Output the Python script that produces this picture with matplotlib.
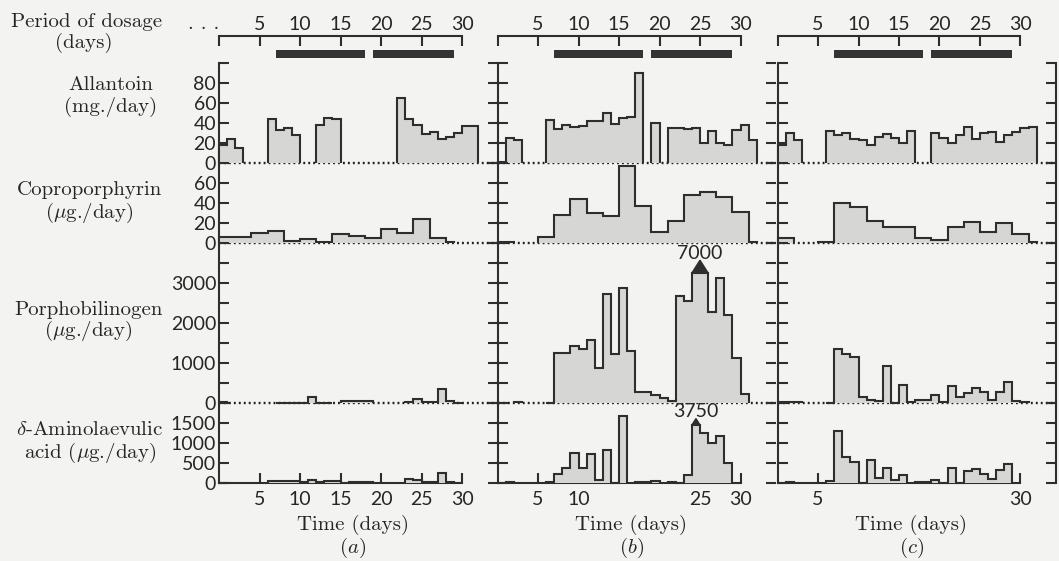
import numpy as np
import matplotlib
matplotlib.use("Agg")
import matplotlib.pyplot as plt

nan = np.nan

# collection periods (bin edges in days)
daily = np.arange(0, 33)
copro_edges_a = [0, 2, 4, 6, 8, 10, 12, 14, 16, 18, 20, 22, 24, 26, 28, 29]
copro_edges_bc = [0, 2, 5, 7, 9, 11, 13, 15, 17, 19, 21, 23, 25, 27, 29, 31, 32]
pbg_edges_b = list(range(0, 25)) + [26, 27, 28, 29, 30, 31, 32]

dosage_periods = [(7, 18), (19, 29)]

# (a)
allantoin_a = [18, 24, 15, nan, nan, nan, 44, 33, 35, 28, nan, nan, 38, 45, 44,
               nan, nan, nan, nan, nan, nan, nan, 65, 44, 38, 29, 31, 24, 26, 30, 37, 37]
copro_a = [6, 6, 10, 12, 2.5, 4, 1, 9, 7, 5, 14, 10, 24, 5, 1]
pbg_a = [20, nan, nan, nan, nan, nan, nan, 5, 5, 5, 5, 160, 8, 8, nan, 40,
         40, 40, 40, nan, nan, nan, nan, 30, 100, 15, 15, 350, 50, 10, nan, nan]
ala_a = [10, nan, nan, nan, nan, nan, 40, 50, 45, 40, 35, 75, 35, 45, 40, nan,
         20, 20, 20, nan, nan, nan, nan, 110, 75, 30, 30, 260, 35, nan, nan, nan]

# (b)
allantoin_b = [1, 25, 23, nan, nan, nan, 43, 34, 38, 36, 37, 42, 42, 50, 39, 45,
               46, 90, nan, 40, nan, 35, 35, 34, 35, 20, 32, 20, 18, 33, 38, 23]
copro_b = [1, nan, 6, 28, 44, 30, 27, 77, 37, 11, 22, 48, 51, 46, 31, 1]
pbg_b = [nan, nan, 20, nan, nan, nan, 10, 1240, 1240, 1425, 1350, 1575, 885, 2725,
         1215, 2865, 1300, 285, 285, 200, 115, 60, 2675, 2550, 7000,
         2285, 3135, 2200, 1115, 225, nan]
ala_b = [nan, 15, nan, nan, nan, nan, 20, 225, 365, 740, 385, 715, 75, 825, 0, 1675,
         nan, 15, 15, 50, nan, 15, 0, 200, 3750, 1240, 990, 1175, 510, nan, nan, nan]

# (c)
allantoin_c = [18, 30, 23, nan, nan, nan, 32, 28, 30, 24, 23, 18, 26, 29, 25, 20,
               32, nan, nan, 30, 25, 20, 28, 36, 24, 30, 31, 21, 28, 31, 35, 36]
copro_c = [4.7, nan, 1, 40, 36, 22, 16, 16, 5, 3, 16, 21, 11, 20, 9, 1]
pbg_c = [20, 20, 20, nan, nan, nan, 5, 1340, 1225, 1140, 160, 75, 40, 935, 10, 450,
         20, 70, 70, 200, 20, 435, 160, 240, 365, 265, 75, 285, 515, 55, 15, nan]
ala_c = [nan, 15, nan, nan, nan, nan, 60, 1310, 660, 535, 0, 575, 125, 385, 85, 200,
         nan, 15, 15, 75, 0, 365, 0, 290, 350, 235, 100, 325, 475, nan, nan, nan]

columns = [
    [(daily, allantoin_a), (copro_edges_a, copro_a), (daily, pbg_a), (daily, ala_a)],
    [(daily, allantoin_b), (copro_edges_bc, copro_b), (pbg_edges_b, pbg_b), (daily, ala_b)],
    [(daily, allantoin_c), (copro_edges_bc, copro_c), (daily, pbg_c), (daily, ala_c)],
]
col_names = ["($a$)", "($b$)", "($c$)"]
bottom_ticks = [[5, 10, 15, 20, 25, 30], [5, 10, 25, 30], [5, 30]]
dose_ticks = [0, 5, 10, 15, 20, 25, 30]

row_labels = [("Allantoin", "(mg./day)"),
              ("Coproporphyrin", r"($\mu$g./day)"),
              ("Porphobilinogen", r"($\mu$g./day)"),
              (r"$\delta$-Aminolaevulic", r"acid ($\mu$g./day)")]
row_top = [100, 80, 4000, 2000]
row_step = [20, 20, 500, 500]
row_labelled = [[0, 20, 40, 60, 80], [0, 20, 40, 60], [0, 1000, 2000, 3000], [0, 500, 1000, 1500]]

# style / layout (pixels)
W, H = 1059, 561
BG = "#f3f3f1"
FILL = "#d6d6d4"
EDGE = "#2e2e2e"
TXT = "#262626"
SERIF = "cmr10"
TICK_FS = 14
plt.rcParams["mathtext.fontset"] = "cm"
plt.rcParams["font.family"] = ["Lato", "DejaVu Sans"]

col_x = [219, 497.5, 777.5]
px_day = 8.1
span = 34.4
row_y = [63, 163, 243, 403, 483]
offscale_cap = [None, None, 3250, 1450]


def rect(x0, y0, x1, y1):
    return [x0 / W, 1 - y1 / H, (x1 - x0) / W, (y1 - y0) / H]


def draw_series(ax, edges, values, top, cap):
    edges = np.asarray(edges, float)
    values = np.asarray(values, float)
    ok = ~np.isnan(values)
    n = len(values)
    i = 0
    while i < n:
        if not ok[i]:
            i += 1
            continue
        j = i
        while j < n and ok[j]:
            j += 1
        v = values[i:j]
        if cap is not None:
            v = np.where(v > top, cap, v)
        ax.stairs(v, edges[i:j + 1], baseline=0, fill=True, facecolor=FILL,
                  edgecolor=EDGE, linewidth=1.5, clip_on=False, zorder=3)
        i = j
    if cap is None:
        return
    # off-scale collections: arrow head and true value
    for k in np.where(ok & (values > top))[0]:
        e0, e1 = edges[k], edges[k + 1]
        th = 160 * (e1 - e0)
        ax.fill([e0, (e0 + e1) / 2, e1], [cap, cap + th, cap], color=EDGE,
                clip_on=False, zorder=4)
        ax.text((e0 + e1) / 2, cap + th + 170, f"{int(values[k])}", ha="center",
                va="center", fontsize=TICK_FS, color=TXT, zorder=5)


fig = plt.figure(figsize=(W / 100, H / 100), dpi=100, facecolor=BG)

for ci, series in enumerate(columns):
    x0 = col_x[ci]
    x1 = x0 + span * px_day

    # dosage strip
    top = fig.add_axes(rect(x0, 36, x1, 62))
    top.patch.set_alpha(0)
    top.set_xlim(0, span)
    top.set_ylim(0, 1)
    for s in ["left", "right", "bottom"]:
        top.spines[s].set_visible(False)
    top.spines["top"].set_bounds(0, 30)
    top.spines["top"].set_linewidth(1.5)
    top.spines["top"].set_color(EDGE)
    top.xaxis.tick_top()
    top.set_xticks(dose_ticks)
    top.set_xticklabels([""] + [str(t) for t in dose_ticks[1:]])
    top.set_yticks([])
    top.tick_params(axis="x", direction="in", length=7, width=1.5, color=EDGE,
                    labelsize=TICK_FS, labelcolor=TXT, pad=2)
    top.broken_barh([(a, b - a) for a, b in dosage_periods], (0.15, 0.31),
                    facecolor="#333333")

    for ri, (edges, values) in enumerate(series):
        ax = fig.add_axes(rect(x0, row_y[ri], x1, row_y[ri + 1]))
        ax.patch.set_alpha(0)
        ax.set_xlim(0, span)
        ax.set_ylim(0, row_top[ri])
        ax.spines["top"].set_visible(False)
        ax.spines["right"].set_visible(ci == 2)
        for s in ax.spines.values():
            s.set_linewidth(1.5)
            s.set_color(EDGE)
        yt = np.arange(0, row_top[ri] + 1, row_step[ri])
        ax.set_yticks(yt)
        ax.set_yticklabels([str(int(t)) if t in row_labelled[ri] else "" for t in yt])
        ax.tick_params(axis="y", direction="in", length=7, width=1.5, color=EDGE,
                       left=True, right=True, labelleft=(ci == 0),
                       labelsize=TICK_FS, labelcolor=TXT, pad=2)
        if ri == 3:
            ax.spines["bottom"].set_bounds(0, 30)
            ax.set_xticks(bottom_ticks[ci])
            ax.set_xticklabels([str(t) for t in bottom_ticks[ci]])
            ax.tick_params(axis="x", direction="in", length=7, width=1.5, color=EDGE,
                           labelsize=TICK_FS, labelcolor=TXT, pad=6)
        else:
            ax.spines["bottom"].set_visible(False)
            ax.set_xticks([])
            # no-collection days: dotted zero line
            ax.plot([0, span], [0, 0], ls=(0, (0.8, 1.3)), color="#1e1e1e", lw=1.7,
                    clip_on=False, zorder=2)
        draw_series(ax, edges, values, row_top[ri], offscale_cap[ri])

    cx = x0 + 16.5 * px_day
    fig.text(cx / W, 1 - 525 / H, "Time (days)", family=SERIF, fontsize=15,
             color=TXT, ha="center", va="center")
    fig.text(cx / W, 1 - 548 / H, col_names[ci], family=SERIF, fontsize=15,
             color=TXT, ha="center", va="center")

# left-hand labels
label_pos = [(111, 85, 107), (89, 190, 213), (88, 310, 331), (90, 430, 453)]
for (l1, l2), (x, y1, y2) in zip(row_labels, label_pos):
    fig.text(x / W, 1 - y1 / H, l1, family=SERIF, fontsize=15, color=TXT,
             ha="center", va="center")
    fig.text(x / W, 1 - y2 / H, l2, family=SERIF, fontsize=15, color=TXT,
             ha="center", va="center")

fig.text(87 / W, 1 - 22 / H, "Period of dosage", family=SERIF, fontsize=15,
         color=TXT, ha="center", va="center")
fig.text(84 / W, 1 - 43 / H, "(days)", family=SERIF, fontsize=15,
         color=TXT, ha="center", va="center")
fig.text(204 / W, 1 - 24 / H, ". . .", family=SERIF, fontsize=15, color=TXT,
         ha="center", va="center")

fig.savefig("out.png", dpi=100, facecolor=BG)
